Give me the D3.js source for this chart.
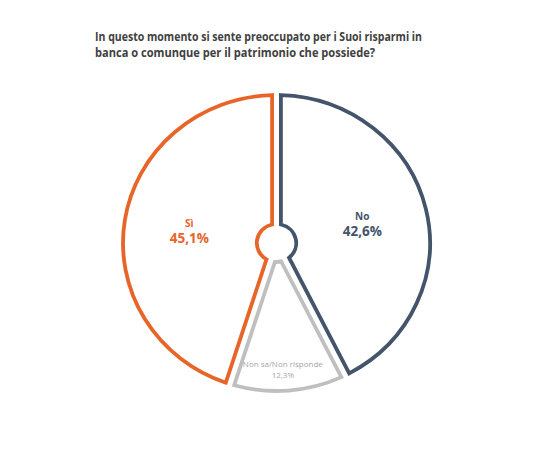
<!DOCTYPE html>
<html>
<head>
<meta charset="utf-8">
<script src="https://cdn.jsdelivr.net/npm/d3@7/dist/d3.min.js"></script>
<style>
  html, body { margin: 0; padding: 0; background: #ffffff; }
  svg { display: block; }
</style>
</head>
<body>
<svg id="chart" width="534" height="462"></svg>
<script>
const titleLines = [
  "In questo momento si sente preoccupato per i Suoi risparmi in",
  "banca o comunque per il patrimonio che possiede?"
];
const categories = ["No", "Non sa/Non risponde", "Sì"];
const values = [42.6, 12.3, 45.1];
const valueLabels = ["42,6%", "12,3%", "45,1%"];
const colors = ["#44546A", "#BFBFBF", "#E8652A"];
const textColors = ["#44546A", "#A6A6A6", "#E8652A"];

const svg = d3.select("#chart");
const FONT = "'Open Sans', 'DejaVu Sans', sans-serif";

// Title
const title = svg.append("g")
  .attr("font-family", FONT)
  .attr("font-weight", 700)
  .attr("font-size", 12)
  .attr("fill", "#404040");
const titleWidths = [327, 280];
titleLines.forEach((t, i) => {
  title.append("text")
    .attr("x", 95)
    .attr("y", 41 + i * 16)
    .attr("textLength", titleWidths[i])
    .attr("lengthAdjust", "spacingAndGlyphs")
    .text(t);
});

const data = categories.map((c, i) => ({ cat: c, value: values[i], label: valueLabels[i], color: colors[i], tcolor: textColors[i] }));

const pie = d3.pie().value(d => d.value).sort(null).startAngle(0).endAngle(2 * Math.PI);
const arcs = pie(data);

const r0 = 19, r1 = 148;
const padR = Math.sqrt(r0 * r0 + r1 * r1);
const arc = d3.arc().innerRadius(r0).outerRadius(r1).padAngle(8.5 / padR);

const cx = 276.5, cy = 243, sx = 1.037;
const g = svg.append("g").attr("transform", `translate(${cx},${cy}) scale(${sx},1)`);

g.selectAll("path.slice").data(arcs).join("path")
  .attr("class", "slice")
  .attr("d", arc)
  .attr("fill", "#ffffff")
  .attr("stroke", d => d.data.color)
  .attr("stroke-width", 3.8)
  .attr("vector-effect", "non-scaling-stroke");

// Labels
const labelArc = d3.arc().innerRadius(85).outerRadius(85);
const smallArc = d3.arc().innerRadius(127).outerRadius(127);
const lg = svg.append("g").attr("font-family", FONT).attr("text-anchor", "middle");

arcs.forEach((a, i) => {
  const small = a.data.value < 20;
  const c = (small ? smallArc : labelArc).centroid(a);
  const x = cx + c[0] * sx;
  const y = cy + c[1];
  if (small) {
    lg.append("text").attr("x", x - 4).attr("y", y - 3)
      .attr("font-size", 8).attr("fill", a.data.tcolor).text(a.data.cat);
    lg.append("text").attr("x", x - 4).attr("y", y + 8)
      .attr("font-size", 8).attr("fill", a.data.tcolor).text(a.data.label);
  } else {
    lg.append("text").attr("x", x).attr("y", y - 3)
      .attr("font-size", 10).attr("font-weight", 700).attr("fill", a.data.tcolor).text(a.data.cat);
    lg.append("text").attr("x", x).attr("y", y + 13)
      .attr("font-size", 13.5).attr("font-weight", 700).attr("fill", a.data.tcolor).text(a.data.label);
  }
});
</script>
</body>
</html>
